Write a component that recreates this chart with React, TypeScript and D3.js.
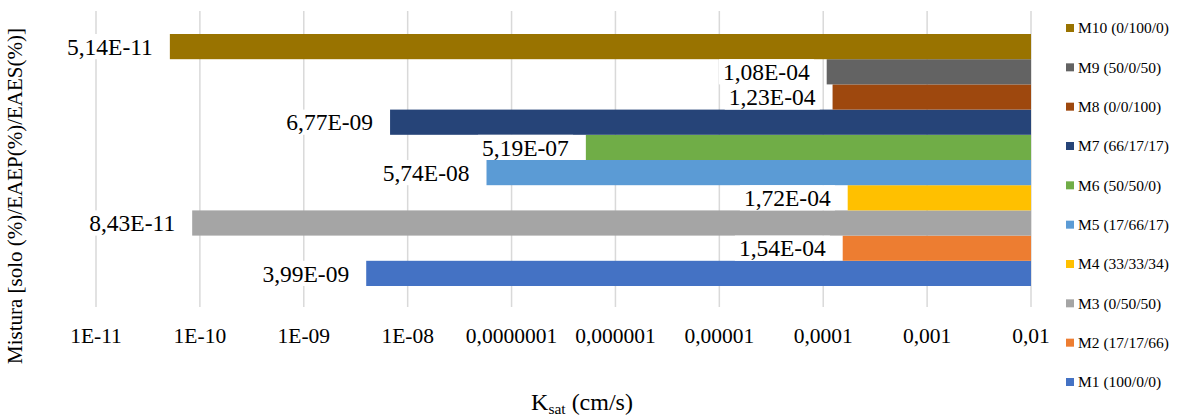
import React, { useEffect, useRef } from "react";
import * as d3 from "d3";

const categories = ["M1", "M2", "M3", "M4", "M5", "M6", "M7", "M8", "M9", "M10"];
const legendLabels = [
  "M1 (100/0/0)",
  "M2 (17/17/66)",
  "M3 (0/50/50)",
  "M4 (33/33/34)",
  "M5 (17/66/17)",
  "M6 (50/50/0)",
  "M7 (66/17/17)",
  "M8 (0/0/100)",
  "M9 (50/0/50)",
  "M10 (0/100/0)",
];
const ksatValues = [3.99e-9, 1.54e-4, 8.43e-11, 1.72e-4, 5.74e-8, 5.19e-7, 6.77e-9, 1.23e-4, 1.08e-4, 5.14e-11];
const colors = ["#4472C4", "#ED7D31", "#A5A5A5", "#FFC000", "#5B9BD5", "#70AD47", "#264478", "#9E480E", "#636363", "#997300"];
const tickValues = [1e-11, 1e-10, 1e-9, 1e-8, 1e-7, 1e-6, 1e-5, 1e-4, 1e-3, 1e-2];
const tickLabels = ["1E-11", "1E-10", "1E-09", "1E-08", "0,0000001", "0,000001", "0,00001", "0,0001", "0,001", "0,01"];

const W = 1188;
const H = 417;
const FONT = "Liberation Serif, serif";

function fmt(v: number): string {
  const [m, e] = v.toExponential(2).split("e");
  const ei = parseInt(e, 10);
  const sign = ei < 0 ? "-" : "+";
  const abs = Math.abs(ei).toString().padStart(2, "0");
  return m.replace(".", ",") + "E" + sign + abs;
}

export default function App() {
  const ref = useRef<SVGSVGElement>(null);
  useEffect(() => {
    document.body.style.margin = "0";
    const svg = d3.select(ref.current);
    svg.selectAll("*").remove();

    const x = d3.scaleLog().domain([1e-11, 1e-2]).range([96, 1031]);
    const y = d3
      .scaleBand<string>()
      .domain(categories.slice().reverse())
      .range([34, 286])
      .padding(0);
    const plotTop = 11;
    const gridBottom = 307;

    svg
      .append("g")
      .selectAll("line")
      .data(tickValues)
      .join("line")
      .attr("x1", (d) => x(d))
      .attr("x2", (d) => x(d))
      .attr("y1", plotTop)
      .attr("y2", gridBottom)
      .attr("stroke", "#d9d9d9")
      .attr("stroke-width", 1.5);

    svg
      .append("g")
      .selectAll("text")
      .data(tickValues)
      .join("text")
      .attr("x", (d) => x(d))
      .attr("y", 343)
      .attr("text-anchor", "middle")
      .style("font-family", FONT)
      .style("font-size", "21.5px")
      .attr("fill", "#000")
      .text((d, i) => tickLabels[i]);

    const right = x(1e-2);
    svg
      .append("g")
      .selectAll("rect")
      .data(categories)
      .join("rect")
      .attr("x", (d, i) => x(ksatValues[i]))
      .attr("y", (d) => y(d)!)
      .attr("width", (d, i) => right - x(ksatValues[i]))
      .attr("height", y.bandwidth())
      .attr("fill", (d, i) => colors[i]);

    const lg = svg.append("g");
    categories.forEach((c, i) => {
      const bx = x(ksatValues[i]);
      const cy = y(c)! + y.bandwidth() / 2;
      const g = lg.append("g");
      const rect = g.append("rect").attr("fill", "#fff");
      const t = g
        .append("text")
        .attr("x", bx - 17)
        .attr("y", cy)
        .attr("dy", "0.35em")
        .attr("text-anchor", "end")
        .style("font-family", FONT)
        .style("font-size", "23.5px")
        .attr("fill", "#000")
        .text(fmt(ksatValues[i]));
      const bb = (t.node() as SVGTextElement).getBBox();
      rect
        .attr("x", bb.x - 4)
        .attr("y", y(c)!)
        .attr("width", bb.width + 8)
        .attr("height", y.bandwidth());
    });

    const leg = svg.append("g");
    categories.forEach((c, i) => {
      const idx = categories.length - 1 - i;
      const ly = 28 + (382 - 28) * (i / 9);
      leg
        .append("rect")
        .attr("x", 1066)
        .attr("y", ly - 4)
        .attr("width", 8)
        .attr("height", 8)
        .attr("fill", colors[idx]);
      leg
        .append("text")
        .attr("x", 1078)
        .attr("y", ly)
        .attr("dy", "0.35em")
        .style("font-family", FONT)
        .style("font-size", "15.5px")
        .attr("fill", "#000")
        .text(legendLabels[idx]);
    });

    svg
      .append("text")
      .attr("transform", "translate(22,196) rotate(-90)")
      .attr("text-anchor", "middle")
      .style("font-family", FONT)
      .style("font-size", "21px")
      .attr("fill", "#000")
      .text("Mistura [solo (%)/EAEP(%)/EAES(%)]");

    const xt = svg
      .append("text")
      .attr("x", 582)
      .attr("y", 410)
      .attr("text-anchor", "middle")
      .style("font-family", FONT)
      .style("font-size", "24px")
      .attr("fill", "#000");
    xt.append("tspan").text("K");
    xt.append("tspan").style("font-size", "15.5px").attr("dy", 4).text("sat");
    xt.append("tspan").attr("dy", -4).text(" (cm/s)");
  }, []);

  return (
    <svg
      ref={ref}
      width={W}
      height={H}
      style={{ display: "block", background: "#fff", fontFamily: FONT }}
    />
  );
}
